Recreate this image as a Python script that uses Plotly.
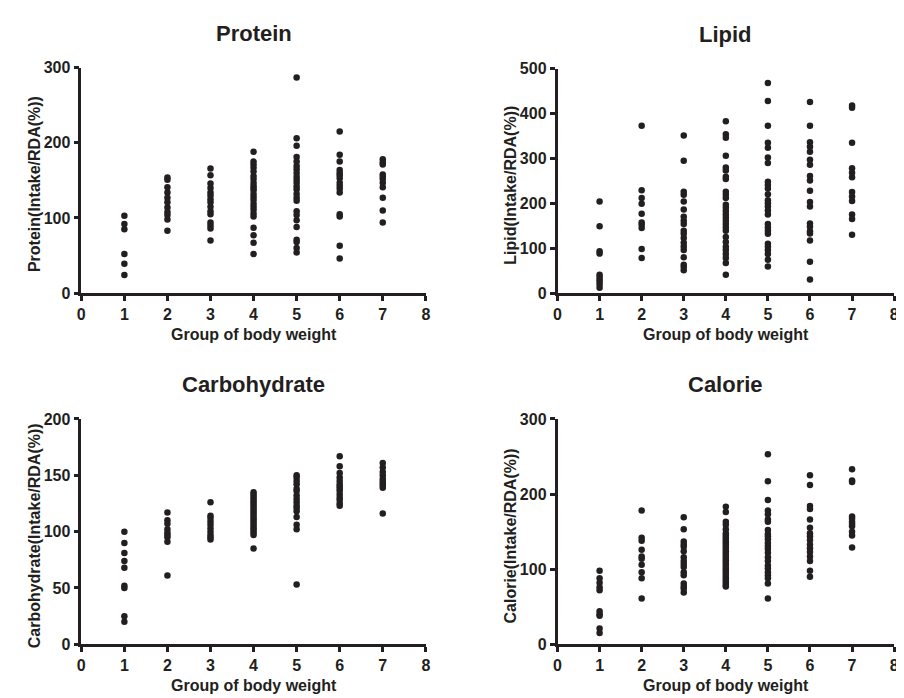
import plotly.graph_objects as go

groups = [1, 2, 3, 4, 5, 6, 7]

protein = [
    [103, 92, 85, 52, 39, 24],
    [154, 151, 141, 134, 127, 121, 114, 108, 104, 98, 83],
    [166, 157, 146, 140, 134, 130, 125, 121, 115, 109, 105, 94, 90, 86, 70],
    [188, 175, 171, 167, 162, 156, 152, 147, 143, 140, 137, 132, 128, 124, 119, 115, 111, 106, 102, 87, 77, 67, 52],
    [287, 206, 196, 181, 175, 169, 165, 160, 155, 151, 147, 142, 138, 132, 127, 123, 109, 104, 97, 88, 71, 68, 60, 54],
    [215, 184, 175, 164, 160, 157, 153, 147, 143, 139, 134, 105, 102, 63, 46],
    [178, 174, 171, 158, 155, 152, 147, 141, 127, 110, 94],
]

lipid = [
    [204, 149, 93, 88, 41, 36, 30, 25, 19, 12],
    [373, 229, 212, 199, 177, 157, 152, 145, 98, 78],
    [351, 295, 226, 219, 204, 186, 170, 161, 154, 139, 132, 123, 112, 104, 96, 80, 63, 58, 51],
    [383, 354, 346, 306, 280, 273, 259, 254, 226, 219, 212, 197, 190, 183, 175, 168, 161, 154, 146, 139, 125, 114, 103, 96, 87, 78, 67, 41],
    [468, 428, 373, 335, 324, 302, 290, 248, 241, 233, 220, 207, 200, 193, 184, 175, 154, 146, 139, 132, 110, 103, 96, 87, 74, 59],
    [426, 373, 336, 326, 315, 297, 286, 261, 251, 228, 203, 193, 155, 148, 138, 133, 117, 70, 30],
    [418, 413, 335, 278, 268, 258, 225, 215, 205, 175, 165, 130],
]

carbohydrate = [
    [100, 90, 81, 74, 68, 52, 50, 25, 20],
    [117, 110, 107, 102, 99, 97, 95, 91, 61],
    [126, 114, 112, 109, 106, 103, 100, 97, 95, 93],
    [135, 133, 131, 129, 127, 125, 123, 121, 119, 117, 115, 113, 111, 109, 107, 105, 103, 101, 99, 97, 85],
    [150, 148, 145, 142, 138, 136, 132, 129, 126, 123, 121, 118, 113, 106, 102, 53],
    [167, 158, 152, 148, 145, 142, 140, 138, 136, 133, 130, 128, 125, 123],
    [161, 157, 153, 150, 147, 145, 143, 141, 139, 116],
]

calorie = [
    [98, 88, 82, 76, 72, 44, 40, 38, 21, 15],
    [178, 142, 138, 126, 117, 114, 106, 96, 88, 61],
    [169, 153, 137, 133, 130, 124, 116, 111, 107, 103, 96, 92, 81, 77, 74, 69],
    [183, 176, 163, 159, 153, 148, 145, 142, 139, 136, 133, 130, 127, 124, 121, 118, 115, 112, 109, 106, 103, 100, 97, 94, 91, 88, 85, 82, 79, 77],
    [253, 217, 192, 178, 173, 166, 163, 152, 147, 144, 140, 135, 131, 127, 122, 116, 111, 105, 101, 96, 92, 88, 81, 61],
    [225, 212, 184, 180, 166, 155, 148, 144, 139, 133, 128, 123, 117, 111, 98, 90],
    [233, 218, 216, 170, 167, 163, 160, 157, 150, 145, 129],
]

panel_titles = ["Protein", "Lipid", "Carbohydrate", "Calorie"]
y_titles = ["Protein(Intake/RDA(%))", "Lipid(Intake/RDA(%))",
            "Carbohydrate(Intake/RDA(%))", "Calorie(Intake/RDA(%))"]
y_ranges = [300, 500, 200, 300]
y_dticks = [100, 100, 50, 100]
x_title = "Group of body weight"
x_ticks = [0, 1, 2, 3, 4, 5, 6, 7, 8]

W, H = 904, 698
# pixel boxes: (left, right, top, bottom)
boxes = [(70, 418, 53, 284), (551, 891, 54, 284),
         (70, 418, 413, 644), (551, 891, 413, 644)]

FONT = "Arial, Liberation Sans, sans-serif"
INK = "#231f20"
lab_font = dict(family=FONT, size=16, color=INK, weight="bold")

fig = go.Figure()
datasets = [protein, lipid, carbohydrate, calorie]

for i, data in enumerate(datasets):
    xs, ys = [], []
    for g, vals in zip(groups, data):
        xs += [g] * len(vals)
        ys += vals
    sfx = "" if i == 0 else str(i + 1)
    fig.add_trace(go.Scatter(
        x=xs, y=ys, mode="markers",
        marker=dict(size=6.5, color=INK, line=dict(width=0)),
        xaxis="x" + sfx, yaxis="y" + sfx, showlegend=False, cliponaxis=False))

    l, r, t, b = boxes[i]
    xd = [l / W, r / W]
    yd = [1 - b / H, 1 - t / H]
    axis_common = dict(
        showline=True, linecolor=INK, linewidth=2.5, ticks="outside",
        ticklen=5, tickwidth=2.5, tickcolor=INK, showgrid=False, zeroline=False,
        tickfont=lab_font, fixedrange=True,
    )
    fig.layout["xaxis" + sfx] = dict(
        axis_common, domain=xd, range=[0, 8], tickmode="array",
        tickvals=x_ticks, anchor="y" + sfx,
    )
    fig.layout["yaxis" + sfx] = dict(
        axis_common, domain=yd, range=[0, y_ranges[i]], dtick=y_dticks[i],
        tick0=0, anchor="x" + sfx,
    )
    # panel title
    fig.add_annotation(
        text=panel_titles[i], xref="paper", yref="paper",
        x=(xd[0] + xd[1]) / 2, y=1 - (t - 35) / H, xanchor="center", yanchor="middle",
        showarrow=False, font=dict(family=FONT, size=22, color=INK, weight="bold"))
    # x title
    fig.add_annotation(
        text=x_title, xref="paper", yref="paper",
        x=(xd[0] + xd[1]) / 2, y=1 - (b + 42) / H, xanchor="center", yanchor="middle",
        showarrow=False, font=lab_font)
    # y title
    fig.add_annotation(
        text=y_titles[i], xref="paper", yref="paper", textangle=-90,
        x=(l - 47) / W, y=1 - ((t + b) / 2 + 4) / H, xanchor="center", yanchor="middle",
        showarrow=False, font=lab_font)

fig.update_layout(
    width=W, height=H, margin=dict(l=0, r=0, t=0, b=0),
    paper_bgcolor="white", plot_bgcolor="white",
)

fig.write_html("out.html")
